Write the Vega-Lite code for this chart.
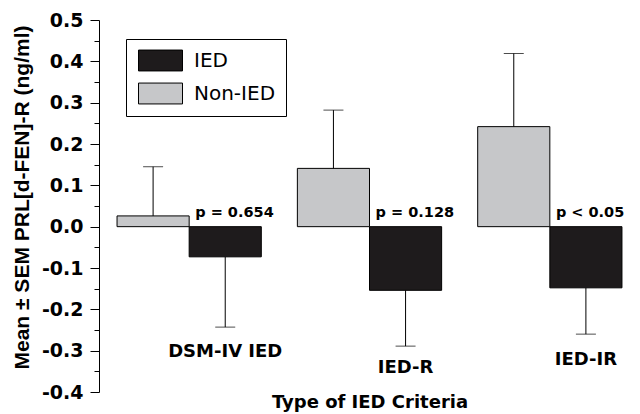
{
  "$schema": "https://vega.github.io/schema/vega-lite/v6.json",
  "width": 541,
  "height": 372,
  "autosize": {"type": "none"},
  "padding": {"left": 99, "top": 20, "right": 0, "bottom": 22},
  "background": "white",
  "config": {"view": {"stroke": null}, "font": "DejaVu Sans"},
  "resolve": {"axis": {"y": "independent"}},
  "datasets": {
    "bars": [
      {"cat": "DSM-IV IED", "group": "Non-IED", "mean": 0.026, "err": 0.145},
      {"cat": "DSM-IV IED", "group": "IED", "mean": -0.073, "err": -0.243},
      {"cat": "IED-R", "group": "Non-IED", "mean": 0.141, "err": 0.282},
      {"cat": "IED-R", "group": "IED", "mean": -0.154, "err": -0.289},
      {"cat": "IED-IR", "group": "Non-IED", "mean": 0.242, "err": 0.419},
      {"cat": "IED-IR", "group": "IED", "mean": -0.148, "err": -0.26}
    ],
    "pvals": [
      {"cat": "DSM-IV IED", "group": "IED", "p": "p = 0.654"},
      {"cat": "IED-R", "group": "IED", "p": "p = 0.128"},
      {"cat": "IED-IR", "group": "IED", "p": "p < 0.05"}
    ]
  },
  "layer": [
    {
      "data": {"name": "bars"},
      "mark": {"type": "bar", "stroke": "black", "strokeWidth": 1},
      "encoding": {
        "x": {
          "field": "cat", "type": "nominal",
          "sort": ["DSM-IV IED", "IED-R", "IED-IR"],
          "scale": {"paddingInner": 0.2, "paddingOuter": 0.1},
          "axis": {
            "labels": false, "ticks": false, "domain": false,
            "title": "Type of IED Criteria",
            "titleFont": "DejaVu Sans", "titleFontSize": 18, "titleFontWeight": "bold",
            "titleColor": "black", "titlePadding": 1
          }
        },
        "xOffset": {"field": "group", "type": "nominal", "sort": ["Non-IED", "IED"], "scale": {"paddingInner": 0, "paddingOuter": 0}},
        "y": {
          "field": "mean", "type": "quantitative",
          "scale": {"domain": [-0.4, 0.5], "nice": false, "zero": false},
          "axis": {
            "orient": "left",
            "values": [-0.4, -0.3, -0.2, -0.1, 0, 0.1, 0.2, 0.3, 0.4, 0.5],
            "labelExpr": "(datum.value < -0.001 ? '-' : '') + format(abs(datum.value), '.1f')",
            "tickSize": 9,
            "labelOverlap": false,
            "grid": false,
            "domainColor": "black", "tickColor": "black",
            "labelFont": "DejaVu Sans", "labelFontSize": 19, "labelFontWeight": "bold", "labelColor": "black",
            "labelPadding": 7,
            "title": "Mean ± SEM PRL[d-FEN]-R (ng/ml)",
            "titleFont": "Liberation Sans", "titleFontSize": 21, "titleFontWeight": "bold", "titleColor": "black",
            "titleX": -71, "titleY": 177, "titleBaseline": "alphabetic"
          }
        },
        "color": {
          "field": "group", "type": "nominal",
          "scale": {"domain": ["IED", "Non-IED"], "range": ["#1e1b1c", "#c6c7c9"]},
          "legend": {
            "orient": "none", "legendX": 27, "legendY": 19, "title": null,
            "symbolType": "M-2,-0.95H2V0.95H-2Z", "symbolSize": 484,
            "symbolOffset": 13, "labelOffset": 22,
            "symbolStrokeColor": "black", "symbolStrokeWidth": 1,
            "labelFont": "DejaVu Sans", "labelFontSize": 20, "labelColor": "black",
            "strokeColor": "black", "fillColor": "white", "padding": 10, "rowPadding": 8
          }
        }
      }
    },
    {
      "data": {"name": "bars"},
      "mark": {"type": "rule", "color": "black", "strokeWidth": 1},
      "encoding": {
        "x": {"field": "cat", "type": "nominal", "sort": ["DSM-IV IED", "IED-R", "IED-IR"]},
        "xOffset": {"field": "group", "type": "nominal", "sort": ["Non-IED", "IED"]},
        "y": {
          "field": "mean", "type": "quantitative",
          "axis": {
            "orient": "left",
            "values": [-0.35, -0.25, -0.15, -0.05, 0.05, 0.15, 0.25, 0.35, 0.45],
            "labels": false, "domain": false, "grid": false, "title": null,
            "tickSize": 5, "tickColor": "black", "tickWidth": 1
          }
        },
        "y2": {"field": "err"}
      }
    },
    {
      "data": {"name": "bars"},
      "mark": {"type": "tick", "color": "black", "thickness": 1, "size": 20, "orient": "horizontal"},
      "encoding": {
        "x": {"field": "cat", "type": "nominal", "sort": ["DSM-IV IED", "IED-R", "IED-IR"]},
        "xOffset": {"field": "group", "type": "nominal", "sort": ["Non-IED", "IED"]},
        "y": {"field": "err", "type": "quantitative", "axis": null}
      }
    },
    {
      "mark": {"type": "rule", "color": "black", "strokeWidth": 1},
      "encoding": {"y": {"datum": 0, "type": "quantitative", "axis": null}}
    },
    {
      "data": {"name": "pvals"},
      "mark": {"type": "text", "align": "left", "baseline": "alphabetic", "dx": -30, "dy": -10, "font": "DejaVu Sans", "fontSize": 14.5, "fontWeight": "bold", "color": "black"},
      "encoding": {
        "x": {"field": "cat", "type": "nominal", "sort": ["DSM-IV IED", "IED-R", "IED-IR"]},
        "xOffset": {"field": "group", "type": "nominal", "sort": ["Non-IED", "IED"]},
        "y": {"datum": 0, "type": "quantitative", "axis": null},
        "text": {"field": "p"}
      }
    },
    {
      "data": {"values": [{"cat": "DSM-IV IED", "group": "IED"}]},
      "mark": {"type": "text", "align": "center", "baseline": "middle", "font": "DejaVu Sans", "fontSize": 18, "fontWeight": "bold", "color": "black"},
      "encoding": {
        "x": {"field": "cat", "type": "nominal", "sort": ["DSM-IV IED", "IED-R", "IED-IR"]},
        "xOffset": {"field": "group", "type": "nominal", "sort": ["Non-IED", "IED"]},
        "y": {"datum": -0.303, "type": "quantitative", "axis": null},
        "text": {"field": "cat"}
      }
    },
    {
      "data": {"values": [{"cat": "IED-R", "group": "IED"}]},
      "mark": {"type": "text", "align": "center", "baseline": "middle", "font": "DejaVu Sans", "fontSize": 18, "fontWeight": "bold", "color": "black"},
      "encoding": {
        "x": {"field": "cat", "type": "nominal", "sort": ["DSM-IV IED", "IED-R", "IED-IR"]},
        "xOffset": {"field": "group", "type": "nominal", "sort": ["Non-IED", "IED"]},
        "y": {"datum": -0.342, "type": "quantitative", "axis": null},
        "text": {"field": "cat"}
      }
    },
    {
      "data": {"values": [{"cat": "IED-IR", "group": "IED"}]},
      "mark": {"type": "text", "align": "center", "baseline": "middle", "font": "DejaVu Sans", "fontSize": 18, "fontWeight": "bold", "color": "black"},
      "encoding": {
        "x": {"field": "cat", "type": "nominal", "sort": ["DSM-IV IED", "IED-R", "IED-IR"]},
        "xOffset": {"field": "group", "type": "nominal", "sort": ["Non-IED", "IED"]},
        "y": {"datum": -0.3225, "type": "quantitative", "axis": null},
        "text": {"field": "cat"}
      }
    }
  ]
}
